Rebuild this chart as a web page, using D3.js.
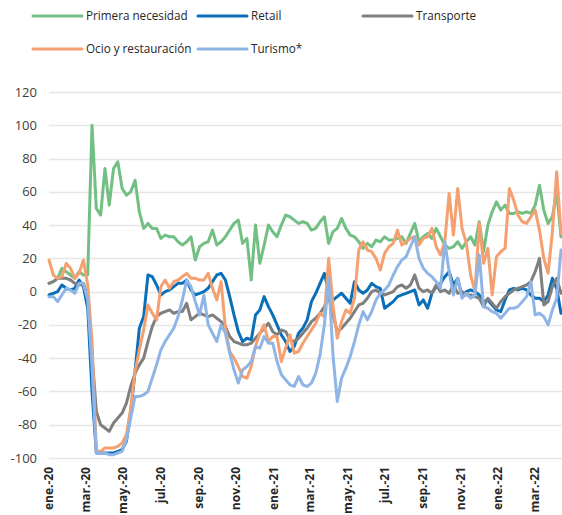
<!DOCTYPE html>
<html>
<head>
<meta charset="utf-8">
<style>
  body { margin: 0; background: #fff; }
  svg { display: block; font-family: "Open Sans", "Noto Sans", sans-serif; }
  .grid line { stroke: #e6e6e6; stroke-width: 1.3px; }
  .ylab { font-size: 13px; fill: #404040; }
  .xlab { font-size: 12px; font-weight: bold; fill: #262626; }
  .leg { font-size: 11.7px; fill: #262626; }
  .serie { fill: none; stroke-width: 3px; stroke-linejoin: round; stroke-linecap: round; }
</style>
</head>
<body>
<svg width="562" height="515"></svg>
<script src="https://cdn.jsdelivr.net/npm/d3@7"></script>
<script>
// semanas desde el 1 de enero de 2020 (120 observaciones)
const startDate = new Date(2020, 0, 1);
const nWeeks = 120;

const seriesNames = ["Primera necesidad", "Retail", "Transporte", "Ocio y restauración", "Turismo*"];
const seriesColors = ["#72bf84", "#0a6fb8", "#7f7f7f", "#f4a070", "#8fb5e6"];

const primera = [
  5, 6, 8, 14, 12, 10, 8, 12, 10, 10,
  100, 50, 46, 74, 52, 74, 78, 62, 58, 60,
  67, 48, 38, 41, 38, 38, 32, 34, 33, 33,
  30, 28, 30, 33, 19, 27, 29, 30, 37, 28,
  30, 33, 37, 41, 43, 29, 32, 7, 40, 17,
  28, 40, 36, 33, 40, 46, 45, 43, 41, 42,
  41, 37, 38, 42, 45, 29, 36, 38, 44, 38,
  34, 33, 30, 26, 29, 27, 31, 30, 33, 31,
  31, 32, 33, 29, 35, 41, 30, 33, 35, 32,
  38, 33, 28, 26, 27, 30, 26, 30, 33, 28,
  42, 24, 40, 48, 54, 49, 52, 47, 47, 48,
  47, 48, 47, 52, 64, 49, 41, 45, 60, 33
];
const retail = [
  -2, -1, 0, 4, 2, 1, 2, 7, 3, -10,
  -60, -97, -97, -97, -97, -97, -96, -95, -90, -72,
  -48, -22, -15, 10, 9, 4, -2, 0, 1, 3,
  5, 5, 7, 1, -2, -1, 0, 2, 6, 10,
  11, 7, -3, -14, -24, -30, -28, -29, -14, -11,
  -3, -9, -14, -20, -26, -30, -36, -33, -25, -22,
  -17, -6, -1, 5, 11, 0, -5, -3, -1, -4,
  -7, 6, 1, -1, 1, 5, 3, 2, -10, -8,
  -6, -3, -2, -1, 0, 1, -8, -5, -10, -1,
  3, 5, 9, 12, 4, 8, -3, 0, 1, 0,
  -2, -6, -5, -8, -11, -12, -5, 1, 2, 1,
  2, 1, -2, -4, -4, -6, -2, 8, 2, -13
];
const transporte = [
  5, 6, 8, 8, 8, 7, 5, 4, 5, -3,
  -38, -72, -80, -82, -84, -79, -76, -73, -67, -57,
  -49, -44, -40, -30, -21, -15, -13, -12, -11, -13,
  -12, -12, -7, -17, -15, -13, -14, -15, -14, -16,
  -18, -21, -27, -30, -31, -32, -32, -31, -28, -25,
  -22, -19, -24, -26, -23, -24, -29, -30, -28, -25,
  -22, -18, -16, -13, -9, -3, -14, -24, -22, -19,
  -16, -12, -8, -7, -4, 0, 1, -1, -2, -1,
  0, 3, 4, 2, 4, 10, 2, 0, 1, -1,
  4, 0, 1, -1, 4, -1, 0, -2, -2, -3,
  -4, -9, -4, -7, -10, -6, -3, -1, 1, 2,
  3, 4, 6, 12, 20, -8, -6, 3, 8, -1
];
const ocio = [
  19, 10, 8, 9, 17, 14, 8, 11, 19, 4,
  -30, -96, -96, -94, -94, -94, -93, -91, -86, -70,
  -48, -35, -23, -8, -13, -17, 3, 7, 2, 6,
  7, 9, 11, 8, 8, 7, 7, 11, 2, -5,
  6, -22, -36, -40, -45, -51, -52, -45, -33, -25,
  -20, -30, -27, -27, -42, -34, -26, -37, -36, -31,
  -27, -23, -19, -13, -15, 20, -8, -28, -18, -11,
  -13, -4, 25, 30, 25, 24, 20, 13, 23, 27,
  29, 37, 28, 30, 32, 33, 28, 32, 33, 38,
  27, 22, 30, 59, 34, 62, 38, 29, 10, 0,
  41, 17, 26, -2, 21, 24, 26, 62, 55, 46,
  42, 41, 45, 49, 37, 20, 11, 36, 72, 35
];
const turismo = [
  -3, -3, -6, -2, 2, 1, -1, 5, 5, -5,
  -45, -97, -97, -97, -98, -98, -97, -96, -89, -76,
  -63, -63, -62, -60, -52, -44, -35, -30, -26, -22,
  -15, -5, 7, 3, -6, -14, -2, -20, -25, -30,
  -20, -25, -37, -47, -55, -47, -45, -42, -33, -34,
  -27, -31, -31, -42, -50, -53, -56, -57, -51, -56,
  -57, -55, -49, -38, -20, 8, -38, -66, -52, -46,
  -39, -30, -20, -12, -17, -12, -5, -1, 1, 4,
  10, 15, 19, 21, 27, 33, 20, 14, 11, 9,
  6, 2, 30, 12, -2, 8, -4, -1, -4, -2,
  22, -9, -10, -12, -13, -16, -13, -10, -10, -9,
  -6, -3, 6, -14, -13, -15, -20, -11, -4, 25
];

const xTickLabels = ["ene.-20", "mar.-20", "may.-20", "jul.-20", "sep.-20", "nov.-20",
  "ene.-21", "mar.-21", "may.-21", "jul.-21", "sep.-21", "nov.-21", "ene.-22", "mar.-22"];
const yTicks = [-100, -80, -60, -40, -20, 0, 20, 40, 60, 80, 100, 120];

const dates = d3.range(nWeeks).map(i => d3.timeDay.offset(startDate, 7 * i));
const allSeries = [primera, retail, transporte, ocio, turismo];

const svg = d3.select("svg");

const x = d3.scaleTime()
  .domain([startDate, dates[dates.length - 1]])
  .range([49, 561]);
const y = d3.scaleLinear()
  .domain([-100, 120])
  .range([458, 92]);

// rejilla
svg.append("g").attr("class", "grid")
  .selectAll("line").data(yTicks).enter().append("line")
  .attr("x1", 49).attr("x2", 562)
  .attr("y1", d => Math.round(y(d)) + 0.5).attr("y2", d => Math.round(y(d)) + 0.5);

// eje y
svg.append("g").selectAll("text").data(yTicks).enter().append("text")
  .attr("class", "ylab")
  .attr("x", 37).attr("y", d => y(d))
  .attr("dy", "0.35em")
  .attr("text-anchor", "end")
  .text(d => d);

// eje x
const tickDates = d3.timeMonth.every(2).range(startDate, d3.timeDay.offset(dates[dates.length - 1], 1));
svg.append("g").selectAll("text").data(tickDates).enter().append("text")
  .attr("class", "xlab")
  .attr("transform", d => `translate(${x(d) + 4},467) rotate(-90)`)
  .attr("text-anchor", "end")
  .text((d, i) => xTickLabels[i]);

// lineas
const line = d3.line()
  .x((d, i) => x(dates[i]))
  .y(d => y(d));

svg.append("g").selectAll("path").data(allSeries).enter().append("path")
  .attr("class", "serie")
  .attr("stroke", (d, i) => seriesColors[i])
  .attr("d", line);

// leyenda
const legPos = [[33, 16], [198, 16], [363, 16], [33, 49], [198, 49]];
const leg = svg.append("g").selectAll("g").data(seriesNames).enter().append("g")
  .attr("transform", (d, i) => `translate(${legPos[i][0]},${legPos[i][1]})`);
leg.append("line")
  .attr("x1", 0).attr("x2", 49)
  .attr("stroke", (d, i) => seriesColors[i])
  .attr("stroke-width", 3).attr("stroke-linecap", "round");
leg.append("text")
  .attr("class", "leg")
  .attr("x", 53).attr("dy", "0.35em")
  .text(d => d);
</script>
</body>
</html>
